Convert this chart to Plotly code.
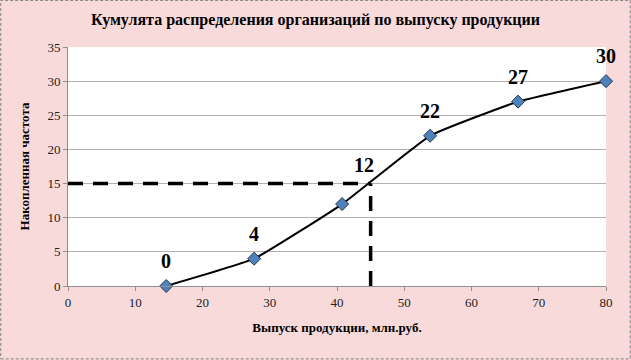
import plotly.graph_objects as go

x_vals = [14.6, 27.68, 40.76, 53.84, 66.92, 80.0]
y_vals = [0, 4, 12, 22, 27, 30]
point_labels = ["0", "4", "12", "22", "27", "30"]
ref_x = 45.0
ref_y = 15.0

title_text = "Кумулята распределения организаций по выпуску продукции"
x_title = "Выпуск продукции, млн.руб."
y_title = "Накопленная частота"

# label placement offsets (pixels), styling only
label_xshift = [0, 0, 22, 0, 0, 0]
label_yshift = [25, 25, 39, 25, 25, 25]

serif = "Liberation Serif, Times New Roman, serif"

fig = go.Figure()

fig.add_trace(go.Scatter(
    x=[0, ref_x], y=[ref_y, ref_y], mode="lines",
    line=dict(color="black", width=3.5, dash="15px,10px"),
    hoverinfo="skip", showlegend=False, cliponaxis=False))
fig.add_trace(go.Scatter(
    x=[ref_x, ref_x], y=[0, ref_y], mode="lines",
    line=dict(color="black", width=3.5, dash="15px,10px"),
    hoverinfo="skip", showlegend=False, cliponaxis=False))

fig.add_trace(go.Scatter(
    x=x_vals, y=y_vals, mode="lines+markers",
    line=dict(color="black", width=2, shape="spline", smoothing=0.35),
    marker=dict(symbol="diamond", size=10, color="#4f81bd",
                line=dict(color="#1f3550", width=1)),
    showlegend=False, cliponaxis=False))

for xv, yv, lab, dx, dy in zip(x_vals, y_vals, point_labels, label_xshift, label_yshift):
    fig.add_annotation(x=xv, y=yv, text="<b>%s</b>" % lab, showarrow=False,
                       xshift=dx, yshift=dy,
                       font=dict(family=serif, size=20, color="black"))

fig.add_shape(type="rect", xref="paper", yref="paper",
              x0=-0.125, x1=1.045, y0=-0.305, y1=1.195,
              line=dict(color="#808080", width=1, dash="3px,2px"),
              layer="below")

fig.update_layout(
    width=631, height=360,
    paper_bgcolor="#f8dada",
    plot_bgcolor="white",
    margin=dict(l=68, r=25, t=47, b=74, autoexpand=False),
    title=dict(text="<b>%s</b>" % title_text, x=0.5, xanchor="center",
               y=0.945, yanchor="middle",
               font=dict(family=serif, size=16, color="black")),
    font=dict(family=serif, size=13, color="#222"),
)

fig.update_xaxes(
    range=[0, 80], dtick=10, tick0=0, automargin=False,
    showgrid=False, zeroline=False,
    showline=True, linecolor="#909090", linewidth=1,
    ticks="outside", ticklen=4, tickcolor="#909090",
    tickfont=dict(family=serif, size=13, color="#222"),
    title=dict(text="<b>%s</b>" % x_title, standoff=14,
               font=dict(family=serif, size=13, color="black")),
)
fig.update_yaxes(
    range=[0, 35], dtick=5, tick0=0, automargin=False,
    showgrid=True, gridcolor="#b0b0b0", gridwidth=1,
    zeroline=False,
    showline=True, linecolor="#909090", linewidth=1,
    ticks="outside", ticklen=4, tickcolor="#909090",
    tickfont=dict(family=serif, size=13, color="#222"),
    title=dict(text="<b>%s</b>" % y_title, standoff=14,
               font=dict(family=serif, size=13, color="black")),
)

fig.write_html("out.html", config={"displayModeBar": False},
               post_script="document.body.style.margin='0';")
